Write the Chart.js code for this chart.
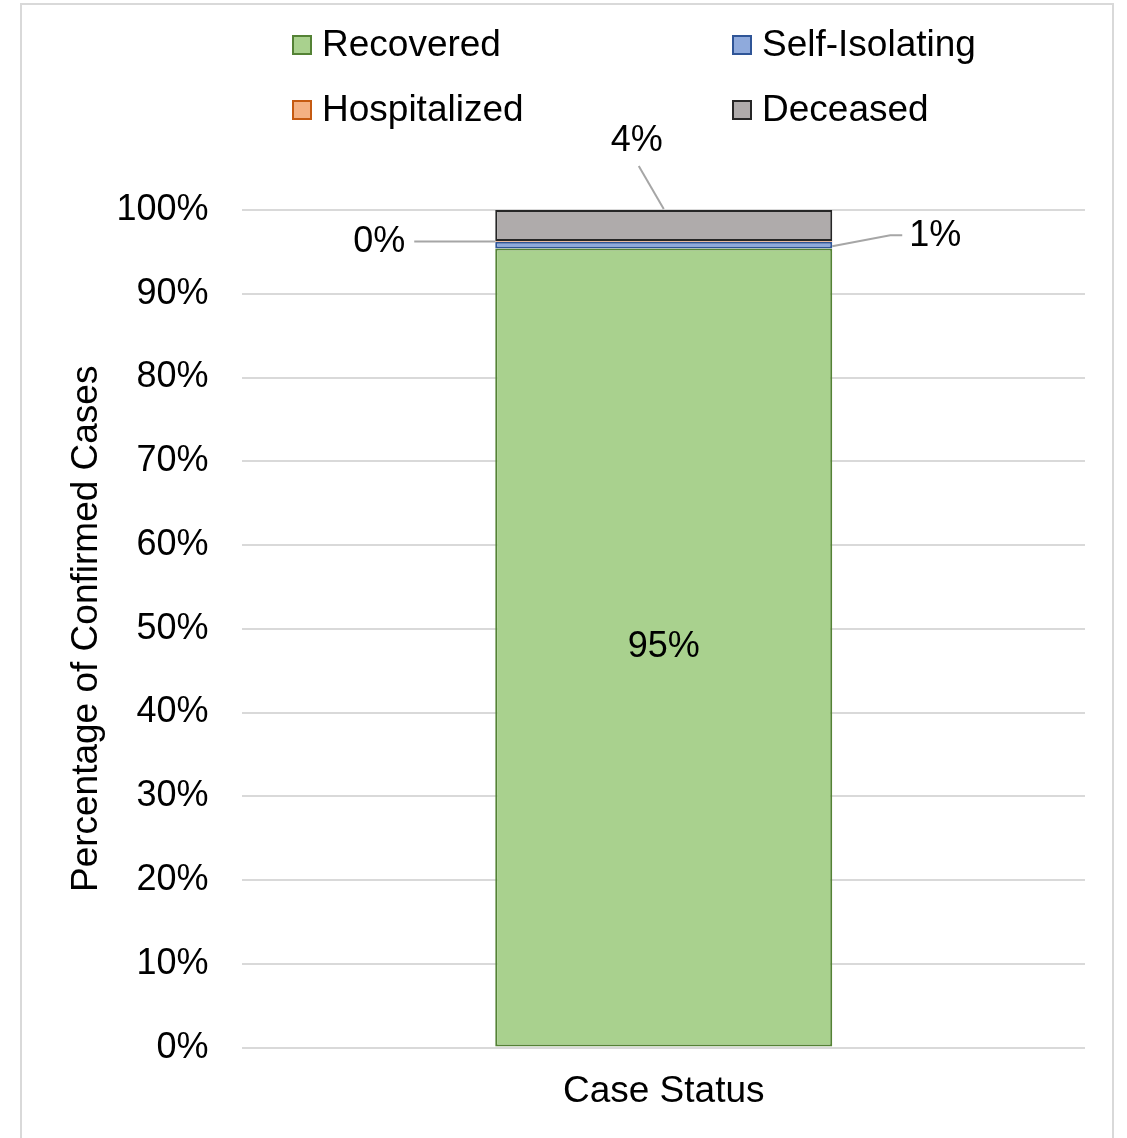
<!DOCTYPE html>
<html>
<head>
<meta charset="utf-8">
<script src="https://cdn.jsdelivr.net/npm/chart.js@4/dist/chart.umd.min.js"></script>
<style>
  html, body { margin: 0; padding: 0; background: #fff; overflow: hidden; }
  #frame {
    position: absolute; left: 20px; top: 3px;
    width: 1094px; height: 1160px;
    border: 2px solid #d9d9d9; box-sizing: border-box;
  }
  #wrap { position: absolute; left: 0; top: 0; width: 1127px; height: 1138px; }
</style>
</head>
<body>
<div id="frame"></div>
<div id="wrap"><canvas id="chart" width="1127" height="1138"></canvas></div>
<script>
const categories = ['Case Status'];
const seriesNames = ['Recovered', 'Self-Isolating', 'Hospitalized', 'Deceased'];
const recovered = [95.4];
const selfIsolating = [0.8];
const hospitalized = [0.1];
const deceased = [3.7];
const yTicks = [0, 10, 20, 30, 40, 50, 60, 70, 80, 90, 100];

const fills = ['#a9d18e', '#8faadc', '#f4b183', '#afabab'];
const borders = ['#548235', '#2f5597', '#c55a11', '#262626'];
const borderWidths = [2, 2, 0, 2];
// where each value label sits relative to its segment
const labelPlacement = ['center', 'right', 'left', 'top'];

const FONT = "'Liberation Sans', Arial, sans-serif";

const valueLists = [recovered, selfIsolating, hospitalized, deceased];
const datasets = seriesNames.map((name, i) => ({
  label: name,
  data: valueLists[i],
  backgroundColor: fills[i],
  borderColor: borders[i],
  borderWidth: borderWidths[i],
  borderSkipped: false,
  barPercentage: 0.4,
  categoryPercentage: 1
}));

const customLegend = {
  id: 'customLegend',
  afterDraw(chart) {
    const ctx = chart.ctx;
    const cols = [293, 733];
    const rows = [45, 110];
    ctx.save();
    ctx.font = '37px ' + FONT;
    ctx.textBaseline = 'middle';
    ctx.textAlign = 'left';
    chart.data.datasets.forEach((ds, i) => {
      const x = cols[i % 2];
      const y = rows[Math.floor(i / 2)];
      ctx.fillStyle = ds.backgroundColor;
      ctx.fillRect(x, y - 9, 18, 18);
      ctx.strokeStyle = ds.borderColor;
      ctx.lineWidth = 2;
      ctx.strokeRect(x, y - 9, 18, 18);
      ctx.fillStyle = '#000';
      ctx.fillText(ds.label, x + 29, y + 1);
    });
    ctx.restore();
  }
};

const valueLabels = {
  id: 'valueLabels',
  afterDatasetsDraw(chart) {
    const ctx = chart.ctx;
    ctx.save();
    ctx.font = '36px ' + FONT;
    ctx.textBaseline = 'middle';
    ctx.strokeStyle = '#a6a6a6';
    ctx.lineWidth = 2;
    chart.data.datasets.forEach((ds, i) => {
      const bar = chart.getDatasetMeta(i).data[0];
      const text = Math.round(ds.data[0]) + '%';
      const left = bar.x - bar.width / 2;
      const right = bar.x + bar.width / 2;
      const mid = (bar.y + bar.base) / 2;
      ctx.fillStyle = '#000';
      const mode = labelPlacement[i];
      if (mode === 'center') {
        ctx.textAlign = 'center';
        ctx.fillText(text, bar.x, mid);
      } else if (mode === 'left') {
        ctx.beginPath();
        ctx.moveTo(left, mid);
        ctx.lineTo(left - 81, mid);
        ctx.stroke();
        ctx.textAlign = 'right';
        ctx.fillText(text, left - 90, mid + 1);
      } else if (mode === 'right') {
        ctx.beginPath();
        ctx.moveTo(right, mid + 1);
        ctx.lineTo(right + 58, mid - 10);
        ctx.lineTo(right + 70, mid - 10);
        ctx.stroke();
        ctx.textAlign = 'left';
        ctx.fillText(text, right + 77, mid - 9);
      } else {
        ctx.beginPath();
        ctx.moveTo(bar.x, bar.y - 1);
        ctx.lineTo(bar.x - 25, bar.y - 44);
        ctx.stroke();
        ctx.textAlign = 'center';
        ctx.fillText(text, bar.x - 27, bar.y - 69);
      }
    });
    ctx.restore();
  }
};

new Chart(document.getElementById('chart'), {
  type: 'bar',
  data: { labels: categories, datasets: datasets },
  options: {
    responsive: false,
    animation: false,
    layout: { padding: { top: 210, right: 42, bottom: 10, left: 65 } },
    scales: {
      x: {
        stacked: true,
        grid: { display: false },
        border: { display: false },
        ticks: { color: '#000', font: { family: FONT, size: 37 }, padding: 14 }
      },
      y: {
        stacked: true,
        min: 0,
        max: 100,
        afterBuildTicks(axis) { axis.ticks = yTicks.map(v => ({ value: v })); },
        grid: { color: '#d9d9d9', lineWidth: 2, drawTicks: false },
        border: { display: false },
        ticks: {
          color: '#000',
          font: { family: FONT, size: 36 },
          padding: 34,
          callback: v => v + '%'
        },
        title: {
          display: true,
          text: 'Percentage of Confirmed Cases',
          color: '#000',
          font: { family: FONT, size: 37 },
          padding: { top: 0, bottom: -27 }
        }
      }
    },
    plugins: {
      legend: { display: false },
      tooltip: { enabled: false }
    }
  },
  plugins: [customLegend, valueLabels]
});
</script>
</body>
</html>
